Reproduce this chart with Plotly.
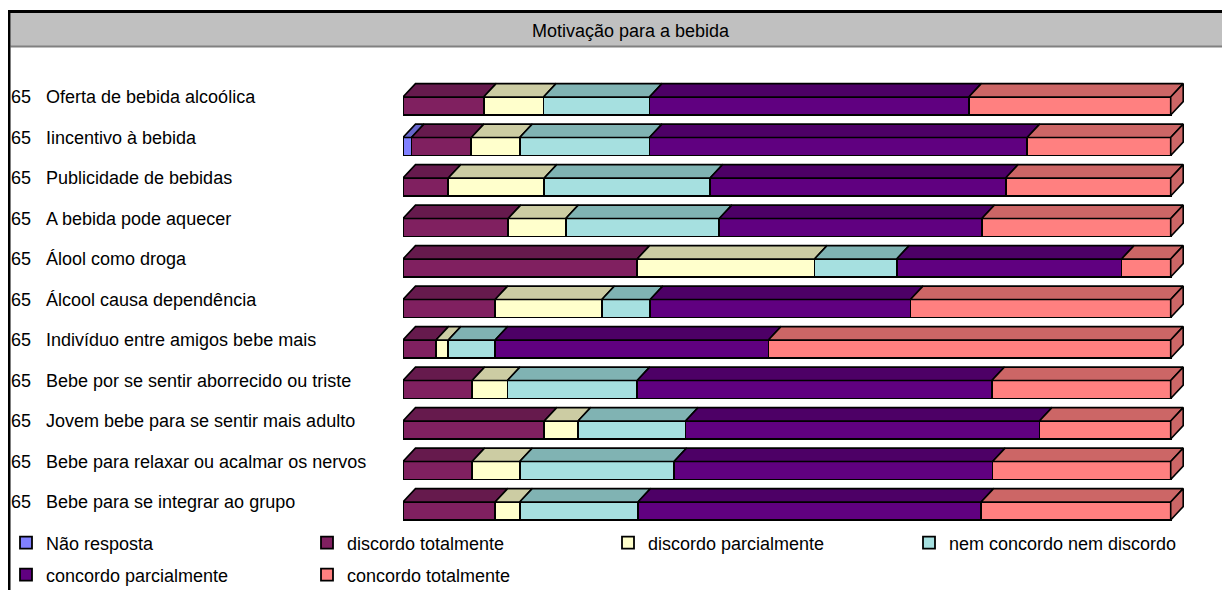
import plotly.graph_objects as go

# ---------------- data ----------------
categories = [
    "Oferta de bebida alcoólica",
    "Iincentivo à bebida",
    "Publicidade de bebidas",
    "A bebida pode aquecer",
    "Álool como droga",
    "Álcool causa dependência",
    "Indivíduo entre amigos bebe mais",
    "Bebe por se sentir aborrecido ou triste",
    "Jovem bebe para se sentir mais adulto",
    "Bebe para relaxar ou acalmar os nervos",
    "Bebe para se integrar ao grupo",
]
n_respondents = ["65"] * len(categories)

series_names = [
    "Não resposta",
    "discordo totalmente",
    "discordo parcialmente",
    "nem concordo nem discordo",
    "concordo parcialmente",
    "concordo totalmente",
]
nao_resposta = [0, 1.1, 0, 0, 0, 0, 0, 0, 0, 0, 0]
discordo_totalmente = [10.5, 7.8, 5.9, 13.7, 30.5, 12.0, 4.3, 9.0, 18.4, 9.0, 12.0]
discordo_parcialmente = [7.8, 6.3, 12.5, 7.5, 23.1, 13.9, 1.6, 4.6, 4.4, 6.2, 3.2]
nem_concordo = [13.8, 16.9, 21.6, 20.0, 10.7, 6.3, 6.1, 16.9, 14.0, 20.1, 15.4]
concordo_parcialmente = [41.6, 49.2, 38.5, 34.2, 29.3, 33.9, 35.6, 46.2, 46.1, 41.5, 44.7]
concordo_totalmente = [26.3, 18.7, 21.5, 24.6, 6.4, 33.9, 52.4, 23.3, 17.1, 23.2, 24.7]

series_values = [nao_resposta, discordo_totalmente, discordo_parcialmente,
                 nem_concordo, concordo_parcialmente, concordo_totalmente]
front_colors = ["#8080FF", "#802060", "#FFFFCC", "#A6E0E0", "#600080", "#FF8080"]
top_colors = ["#6666CC", "#661A4D", "#CCCCA3", "#80B3B3", "#4D0066", "#CC6666"]
side_color = "#CC6666"

title_text = "Motivação para a bebida"
FONT = "Arial, Liberation Sans, sans-serif"

# ---------------- geometry (page pixels; page body has an 8px margin) ----------------
OFF = 8
W, H = 1230 - OFF, 590 - OFF
L = 403 - OFF           # zero of the bars
R = 15
T = 46 - OFF
B = 68
plot_w = W - L - R
plot_h = H - T - B
px_per_unit = 7.677
x_max = plot_w / px_per_unit
row_px = 40.5
row0_px = 106 - OFF
n = len(categories)
y_top = -(row0_px - T) / row_px
y_bot = (n - 1) + (H - B - (row0_px + (n - 1) * row_px)) / row_px
bar_w = 18 / row_px
dx = 12.5 / px_per_unit
dy = 13.4 / row_px
rows = list(range(n))


def xp(px_page):
    return (px_page - OFF - L) / plot_w


def yp(py_page):
    return (H - B - (py_page - OFF)) / plot_h


fig = go.Figure()

# front faces (stacked bars)
for k, (name, vals) in enumerate(zip(series_names, series_values)):
    fig.add_trace(go.Bar(
        y=rows, x=[v if v > 0 else None for v in vals], orientation="h",
        width=bar_w, name=name,
        marker=dict(color=front_colors[k], line=dict(color="black", width=1.8)),
        legend="legend" if k < 4 else "legend2",
        hoverinfo="x+name",
    ))

# top faces (3D depth)
cum = [0.0] * n
for k, vals in enumerate(series_values):
    xs, ys = [], []
    for i, v in enumerate(vals):
        if v > 0:
            x0, x1 = cum[i], cum[i] + v
            yb = i - bar_w / 2
            xs += [x0, x1, x1 + dx, x0 + dx, x0, None]
            ys += [yb, yb, yb - dy, yb - dy, yb, None]
        cum[i] += v
    fig.add_trace(go.Scatter(
        x=xs, y=ys, mode="lines", fill="toself", fillcolor=top_colors[k],
        line=dict(color="black", width=1.6), showlegend=False, hoverinfo="skip",
    ))

# right side faces
xs, ys = [], []
for i in rows:
    xe = cum[i]
    yb, yf = i - bar_w / 2, i + bar_w / 2
    xs += [xe, xe, xe + dx, xe + dx, xe, None]
    ys += [yf, yb, yb - dy, yf - dy, yf, None]
fig.add_trace(go.Scatter(
    x=xs, y=ys, mode="lines", fill="toself", fillcolor=side_color,
    line=dict(color="black", width=1.6), showlegend=False, hoverinfo="skip",
))

# row labels
annotations = []
for i, (cnt, lab) in enumerate(zip(n_respondents, categories)):
    annotations.append(dict(x=xp(9), y=i - 0.22, xref="paper", yref="y", text=cnt,
                            showarrow=False, xanchor="left", yanchor="middle",
                            font=dict(family=FONT, size=18, color="black")))
    annotations.append(dict(x=xp(44), y=i - 0.22, xref="paper", yref="y", text=lab,
                            showarrow=False, xanchor="left", yanchor="middle",
                            font=dict(family=FONT, size=18, color="black")))
annotations.append(dict(x=xp(631), y=yp(31), xref="paper", yref="paper", text=title_text,
                        showarrow=False, xanchor="center", yanchor="middle",
                        font=dict(family=FONT, size=18, color="black")))

shapes = [
    dict(type="rect", xref="paper", yref="paper", x0=xp(10.5), x1=xp(1245), y0=yp(46), y1=yp(13),
         fillcolor="#C0C0C0", line=dict(width=0), layer="below"),
    dict(type="line", xref="paper", yref="paper", x0=xp(10.5), x1=xp(1245), y0=yp(46.5), y1=yp(46.5),
         line=dict(color="#808080", width=2)),
    dict(type="rect", xref="paper", yref="paper", x0=xp(9), x1=xp(1245), y0=yp(610), y1=yp(11.5),
         line=dict(color="black", width=3)),
]

legend_common = dict(orientation="h", xanchor="left", yanchor="middle",
                     entrywidth=256, entrywidthmode="pixels",
                     font=dict(family=FONT, size=18, color="black"),
                     bgcolor="rgba(0,0,0,0)", borderwidth=0, traceorder="normal")

fig.update_layout(
    width=W, height=H, autosize=False,
    margin=dict(l=L, r=R, t=T, b=B, autoexpand=False),
    paper_bgcolor="white", plot_bgcolor="white",
    barmode="stack",
    xaxis=dict(range=[0, x_max], visible=False, fixedrange=True),
    yaxis=dict(range=[y_bot, y_top], visible=False, fixedrange=True),
    legend=dict(x=xp(6), y=yp(543), **legend_common),
    legend2=dict(x=xp(6), y=yp(575), **legend_common),
    annotations=annotations, shapes=shapes,
    showlegend=True,
)

fig.write_html("out.html")
